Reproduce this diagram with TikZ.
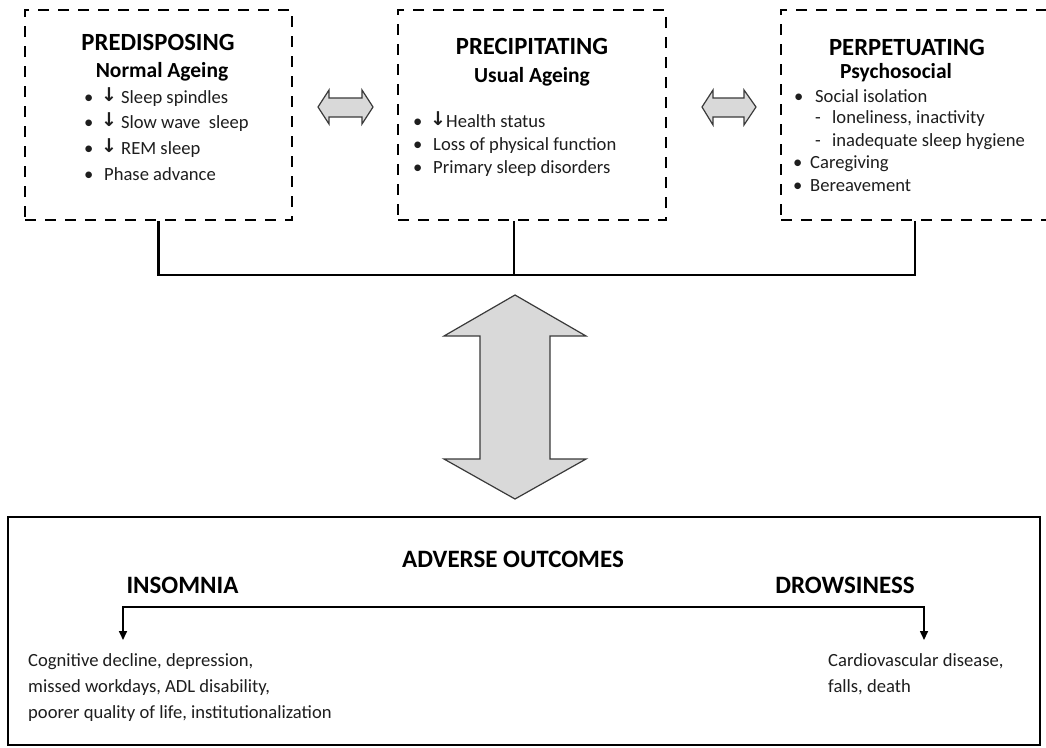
\documentclass[tikz,border=0pt]{standalone}
\usepackage{fontspec}
\setmainfont{Carlito}
\newfontfamily\arrfont{DejaVu Sans}
\usetikzlibrary{arrows.meta}
\definecolor{txt}{HTML}{1E1E1E}
\definecolor{afill}{HTML}{D9D9D9}
\definecolor{aline}{HTML}{3A3A3A}
\newcommand{\dn}{\raisebox{2pt}{\arrfont\bfseries\fontsize{19}{19}\selectfont ↓}}
\begin{document}
\begin{tikzpicture}[x=1pt,y=-1pt,
  dbox/.style={draw=black, line width=2.8pt, dash pattern=on 11pt off 9pt, inner sep=0pt, minimum height=210pt},
  ttl/.style={font=\fontsize{24.7}{28}\selectfont\bfseries, anchor=base, inner sep=0pt},
  sub/.style={font=\fontsize{21.5}{25}\selectfont\bfseries, anchor=base, inner sep=0pt},
  body/.style={font=\fontsize{18.6}{22}\selectfont, text=txt, anchor=base west, inner sep=0pt},
  btm/.style={font=\fontsize{18.6}{26}\selectfont, text=txt, anchor=base west, inner sep=0pt, align=left},
  big/.style={font=\fontsize{25}{29}\selectfont\bfseries, anchor=base, inner sep=0pt},
  conn/.style={draw=black, line width=2.5pt},
  harrow/.style={fill=afill, draw=aline, line width=1.2pt, line join=miter},
  brk/.style={draw=black, line width=1.6pt}
]
\clip (0,0) rectangle (1046,747);
\fill[white] (0,0) rectangle (1046,747);

% --- top dashed boxes
\node[dbox, minimum width=267pt] (pre) at (158.5,115) {};
\node[dbox, minimum width=268pt] (mid) at (532,115) {};
\node[dbox, minimum width=268pt] (per) at (915,115) {};

% --- predisposing
\node[ttl] (preT) at (158,50) {PREDISPOSING};
\node[sub] (preS) at (162,77) {Normal Ageing};
\node[body] (pre1) at (84,103) {\makebox[17pt][l]{•}\makebox[20pt][l]{\dn}Sleep spindles};
\node[body] (pre2) at (84,128) {\makebox[17pt][l]{•}\makebox[20pt][l]{\dn}Slow wave\ \ sleep};
\node[body] (pre3) at (84,154) {\makebox[17pt][l]{•}\makebox[20pt][l]{\dn}REM sleep};
\node[body] (pre4) at (84,180) {\makebox[20pt][l]{•}Phase advance};

% --- precipitating
\node[ttl] (midT) at (532,54) {PRECIPITATING};
\node[sub] (midS) at (532,82) {Usual Ageing};
\node[body] (mid1) at (413,127) {\makebox[17pt][l]{•}\makebox[16pt][l]{\dn}Health status};
\node[body] (mid2) at (413,150) {\makebox[20pt][l]{•}Loss of physical function};
\node[body] (mid3) at (413,173) {\makebox[20pt][l]{•}Primary sleep disorders};

% --- perpetuating
\node[ttl] (perT) at (907,55) {PERPETUATING};
\node[sub] (perS) at (896,78) {Psychosocial};
\node[body] (per1) at (794,102) {\makebox[21pt][l]{•}Social isolation};
\node[body] (per2) at (815,123) {\makebox[17pt][l]{-}loneliness, inactivity};
\node[body] (per3) at (815,146) {\makebox[17pt][l]{-}inadequate sleep hygiene};
\node[body] (per4) at (793,168) {\makebox[17pt][l]{•}Caregiving};
\node[body] (per5) at (793,191) {\makebox[17pt][l]{•}Bereavement};

% --- small double arrows between boxes
\draw[harrow] (318,107) -- (329,90) -- (329,98) -- (362,98) -- (362,90) -- (373,107)
  -- (362,124) -- (362,117) -- (329,117) -- (329,124) -- cycle;
\draw[harrow] (702,107) -- (713,90) -- (713,98) -- (744,98) -- (744,90) -- (756,107)
  -- (744,125) -- (744,117) -- (713,117) -- (713,125) -- cycle;

% --- joining bracket
\coordinate (j) at (514,275);
\draw[conn] (pre.south) |- (per.south |- j) -- (per.south);
\draw[conn] (j) -- (j |- mid.south);

% --- big double arrow
\draw[harrow] (515,295) -- (586,336) -- (550,336) -- (550,459) -- (586,459) -- (515,499)
  -- (444,459) -- (480,459) -- (480,336) -- (444,336) -- cycle;

% --- outcomes box
\node[draw=black, line width=2.5pt, minimum width=1032pt, minimum height=228pt, inner sep=0pt] (out) at (524,631) {};
\node[big] (adv) at (513,567) {ADVERSE OUTCOMES};
\node[big] (ins) at (182.5,593) {INSOMNIA};
\node[big] (drw) at (845,593) {DROWSINESS};

\node[btm] (insL) at (28,718) {Cognitive decline, depression,\\missed workdays, ADL disability,\\poorer quality of life, institutionalization};
\node[btm] (drwL) at (828,692) {Cardiovascular disease,\\falls, death};

\coordinate (bl) at (123,607);
\coordinate (br) at (924,607);
\draw[brk, {Triangle[width=8pt,length=9pt]}-{Triangle[width=8pt,length=9pt]}]
  (bl |- 0,640) -- (bl) -- (br) -- (br |- 0,640);
\end{tikzpicture}
\end{document}
